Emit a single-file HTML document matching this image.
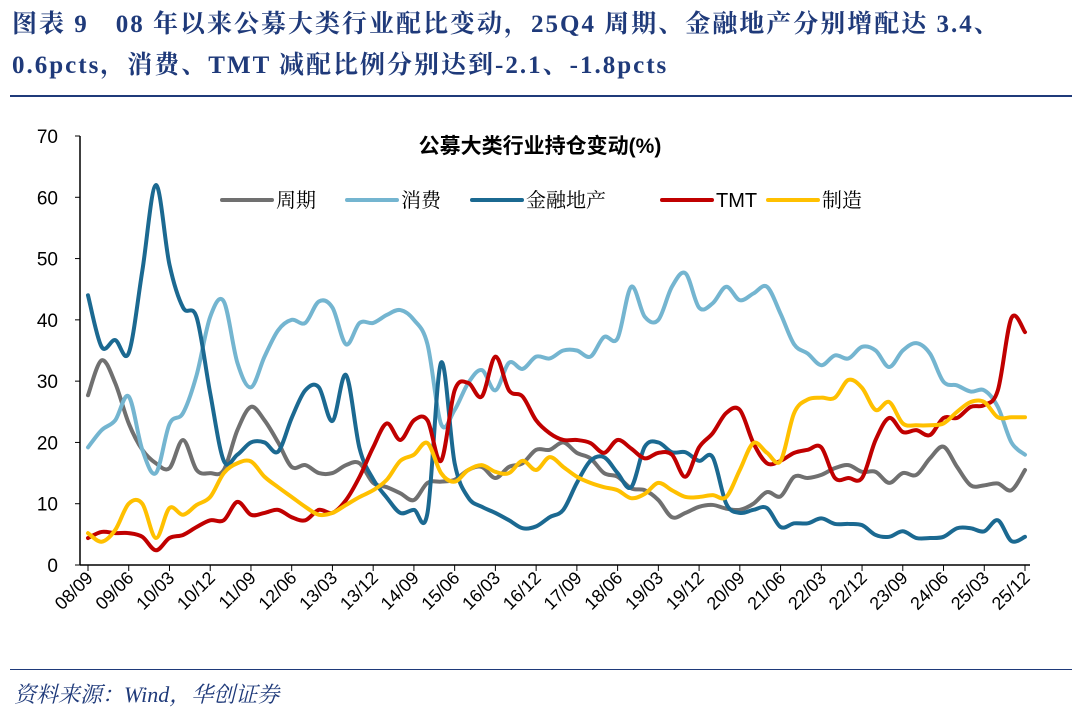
<!DOCTYPE html>
<html><head><meta charset="utf-8">
<style>
body{margin:0;background:#fff;width:1080px;height:713px;overflow:hidden;font-family:"Liberation Serif","Noto Serif CJK SC",serif;}
.t{position:absolute;left:12px;color:#1f3a7a;font-weight:bold;font-size:25px;letter-spacing:2px;white-space:nowrap;}
</style></head><body>
<div class="t" style="top:4px">图表 9　08 年以来公募大类行业配比变动，25Q4 周期、金融地产分别增配达 3.4、</div>
<div class="t" style="top:45px">0.6pcts，消费、TMT 减配比例分别达到-2.1、-1.8pcts</div>
<div style="position:absolute;left:10px;top:95px;width:1062px;height:2px;background:#1f3a7a"></div>
<div style="position:absolute;left:10px;top:669px;width:1062px;height:1px;background:#1f3a7a"></div>
<div style="position:absolute;left:14px;top:678px;font-size:22px;font-style:italic;color:#1f3a7a;font-family:'Liberation Serif','Noto Serif CJK SC',serif">资料来源：Wind，华创证券</div>
<svg id="c" width="1080" height="713" style="position:absolute;left:0;top:0"></svg>
<script>
const categories=["08/09","08/12","09/03","09/06","09/09","09/12","10/03","10/06","10/09","10/12","11/03","11/06","11/09","11/12","12/03","12/06","12/09","12/12","13/03","13/06","13/09","13/12","14/03","14/06","14/09","14/12","15/03","15/06","15/09","15/12","16/03","16/06","16/09","16/12","17/03","17/06","17/09","17/12","18/03","18/06","18/09","18/12","19/03","19/06","19/09","19/12","20/03","20/06","20/09","20/12","21/03","21/06","21/09","21/12","22/03","22/06","22/09","22/12","23/03","23/06","23/09","23/12","24/03","24/06","24/09","24/12","25/03","25/06","25/09","25/12"];
const cyclical=[27.7,33.4,29.7,23.1,18.8,16.6,15.8,20.4,15.5,15,15.5,22,25.8,23.6,20,16,16.3,15,15,16.3,16.6,13.4,12.7,11.7,10.6,13.4,13.6,13.9,15.5,16,14.2,16,16.6,18.8,18.8,20,18.3,17.4,15,14.4,12.5,12.2,10.6,7.8,8.5,9.5,9.8,9.2,9,10,11.9,11.2,14.4,14.2,14.7,15.8,16.3,15.2,15.2,13.4,15,14.7,17.4,19.3,16,13,13,13.3,12.2,15.5];
const consumer=[19.2,22,23.6,27.5,18.8,15,23,24.8,31,40.5,43,33,29,34,38.3,40,39.5,43,42,36,39.5,39.5,40.8,41.6,40,36,23,25.3,29.7,31.8,28.5,33,32,34,33.7,35,35,34,37.2,37,45.4,40.5,40,45.4,47.6,42,42.7,45.4,43.2,44.3,45.4,41,36,34.5,32.6,34.2,33.7,35.6,35,32.3,35,36.2,34.5,29.9,29.3,28.3,28.5,25.8,20,18];
const financial=[44,35.6,36.7,34.6,48,62,49,42,40.4,28,17,18,20,20,18.5,24,28.5,29,23.5,31,19,14,11,8.5,9,8.5,33,16.6,11,9.5,8.5,7.3,6,6.3,7.8,9,13.4,17,17.6,15,12.7,19.3,20,18.4,18.4,17,17.6,10,8.5,9,9.3,6.2,6.8,6.8,7.6,6.7,6.7,6.5,4.9,4.6,5.5,4.4,4.4,4.6,6,6,5.5,7.3,3.9,4.6];
const tmt=[4.4,5.4,5.2,5.2,4.6,2.4,4.4,4.9,6.2,7.3,7.3,10.3,8.2,8.5,9,7.8,7.3,9,8.5,10.6,14.4,19.2,23.1,20.4,23.6,23.6,17,28.5,29.7,27.5,34,28.5,27.5,23.6,21.5,20.4,20.4,19.9,18.3,20.4,19,17.4,18.3,18,14.4,19.2,21.5,24.8,25.3,19.9,16.6,17,18.3,18.8,19.2,14.2,14.2,14.2,20.4,24,21.7,22,21.2,24,24,25.8,26.1,28.5,40.3,38];
const manufacturing=[5.2,3.8,5.7,10,10,4.4,9.3,8.2,9.8,11.1,15,16.6,16.9,14.4,12.7,11.1,9.5,8.2,8.5,9.8,11.1,12.2,13.9,17,18,19.9,15,13.6,15.5,16.3,15.2,15,17,15.5,17.6,16,14.4,13.4,12.7,12.2,10.9,11.6,13.4,12.2,11.1,11.1,11.4,11.1,15.5,19.9,18.3,17,24.8,27,27.3,27.3,30.2,28.9,25.3,26.6,23.1,22.8,22.8,23.1,25,26.6,26.6,24.1,24.1,24.1];
const yTicks=[0,10,20,30,40,50,60,70];
const seriesNames=["周期","消费","金融地产","TMT","制造"];
const seriesData=[cyclical,consumer,financial,tmt,manufacturing];
const colors=["#707070","#74b5d0","#1b6991","#c00000","#ffc000"];
const svg=document.getElementById('c');const NS="http://www.w3.org/2000/svg";
const X0=88,X1=1025,Y0=565,Y1=136,YMAX=70;
const x=i=>X0+(X1-X0)*i/(categories.length-1);
const y=v=>Y0-(Y0-Y1)*v/YMAX;
function mk(t,a,txt){const e=document.createElementNS(NS,t);for(const k in a)e.setAttribute(k,a[k]);if(txt!==undefined)e.textContent=txt;svg.appendChild(e);return e;}
let e=mk('line',{x1:80,y1:Y1,x2:80,y2:Y0,stroke:'#000','stroke-width':1.5});

e=mk('line',{x1:80,y1:Y0,x2:1030,y2:Y0,stroke:'#000','stroke-width':1.5});

yTicks.forEach(v=>{
 const t=mk('line',{x1:75,x2:80,y1:y(v),y2:y(v),stroke:'#000'});
 
 const l=mk('text',{x:58,y:y(v)+7,'text-anchor':'end','font-size':19,'font-family':'Liberation Sans, sans-serif'},String(v));
 
});
categories.forEach((c,i)=>{
 if(i%3!==0)return;
 const xx=x(i);
 const t=mk('line',{x1:xx,x2:xx,y1:Y0,y2:Y0+6,stroke:'#000'});
 
 const l=mk('text',{x:xx+6,y:Y0+14,'text-anchor':'end','font-size':18,'font-family':'Liberation Sans, sans-serif',transform:`rotate(-45 ${xx+6} ${Y0+14})`},c);
 
});
function smooth(pts){let d=`M${pts[0][0]},${pts[0][1]}`;for(let i=0;i<pts.length-1;i++){const p0=pts[i-1]||pts[i],p1=pts[i],p2=pts[i+1],p3=pts[i+2]||p2;const c1=[p1[0]+(p2[0]-p0[0])/6,p1[1]+(p2[1]-p0[1])/6],c2=[p2[0]-(p3[0]-p1[0])/6,p2[1]-(p3[1]-p1[1])/6];d+=`C${c1[0]},${c1[1]} ${c2[0]},${c2[1]} ${p2[0]},${p2[1]}`;}return d;}
const lineNames=['line-cyclical','line-consumer','line-financial','line-tmt','line-manufacturing'];
seriesData.forEach((s,k)=>{
 const p=mk('path',{d:smooth(s.map((v,i)=>[x(i),y(v)])),fill:'none',stroke:colors[k],'stroke-width':4,'stroke-linejoin':'round','stroke-linecap':'round'});
 
});
const tt=mk('text',{x:540,y:153,'text-anchor':'middle','font-size':21,'font-weight':'bold','font-family':'Liberation Sans, Noto Sans CJK SC, sans-serif'},'公募大类行业持仓变动(%)');

const lx=[222,347,472,662,768];
seriesNames.forEach((n,k)=>{
 const g=mk('line',{x1:lx[k],x2:lx[k]+50,y1:200,y2:200,stroke:colors[k],'stroke-width':4,'stroke-linecap':'round'});
 
 const t=mk('text',{x:lx[k]+54,y:207,'font-size':20,'font-family':'Liberation Sans, Noto Serif CJK SC, sans-serif'},n);
 
});
</script>
</body></html>
